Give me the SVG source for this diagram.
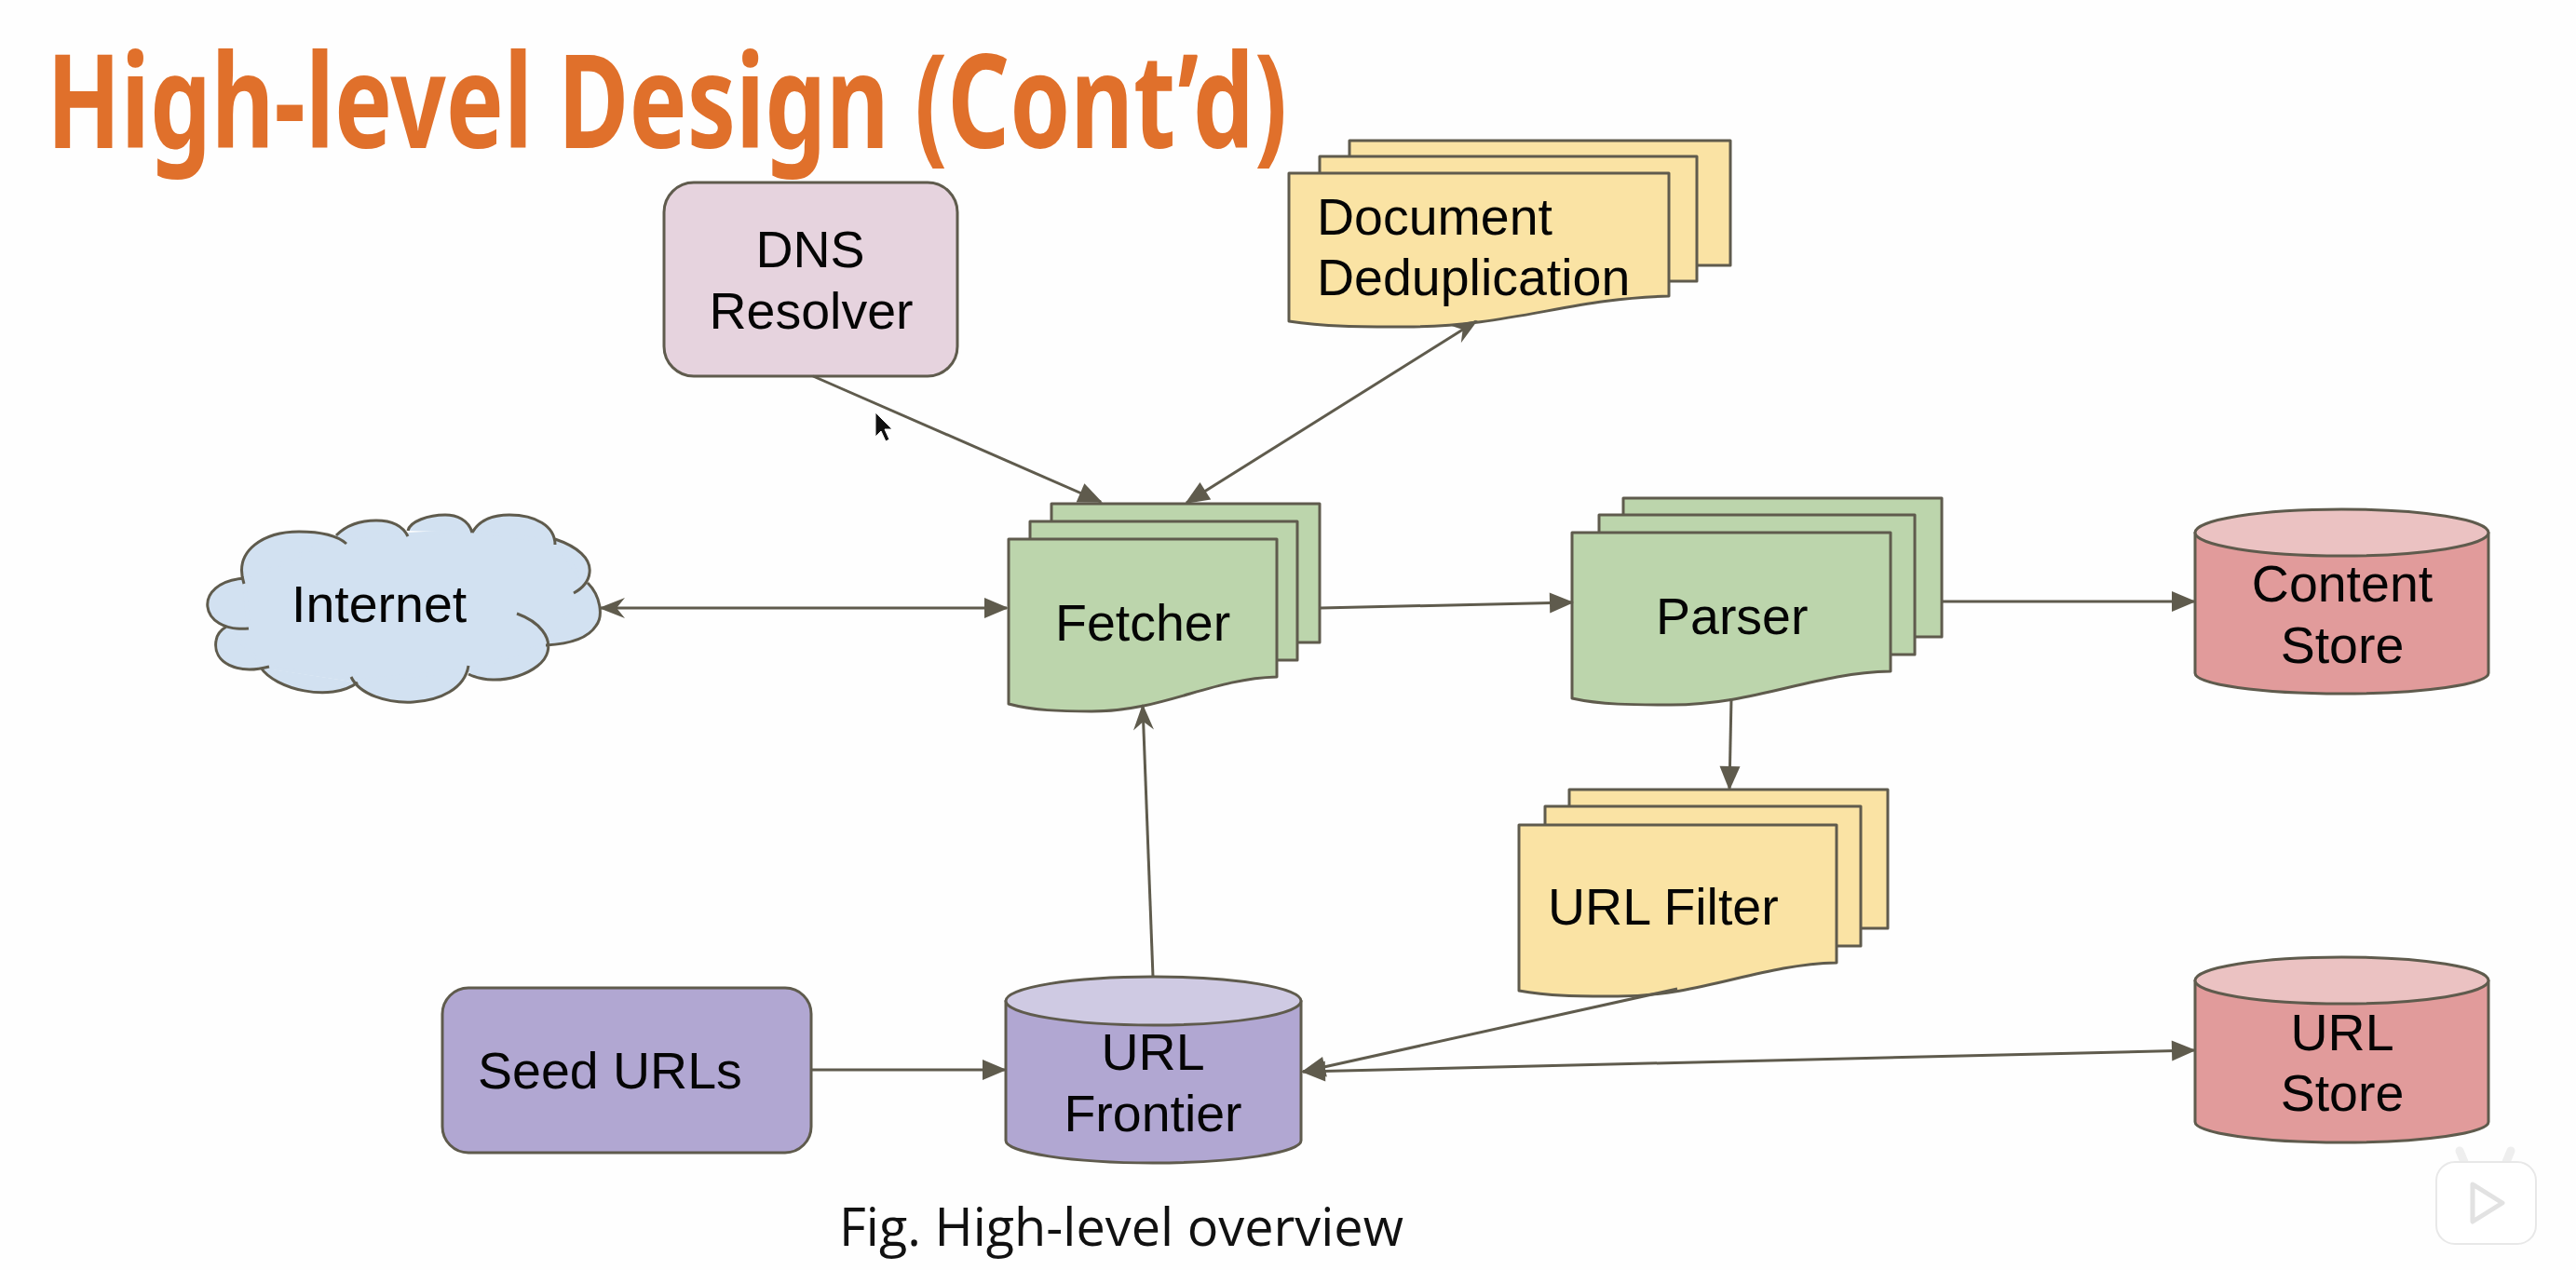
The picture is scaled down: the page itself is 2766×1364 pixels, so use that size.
<svg xmlns="http://www.w3.org/2000/svg" width="2766" height="1364" viewBox="0 0 2766 1364">
<style>
.s{stroke:#5f5b4d;stroke-width:3;stroke-linejoin:round}
.t{font-family:"Liberation Sans",Arial,sans-serif;font-size:55.500px;fill:#050505}
.m{text-anchor:middle}
.g{fill:#bcd5ac}.y{fill:#fae3a4}.p{fill:#b1a7d2}.r{fill:#e19b9b}.rt{fill:#ebc2c2}
.c{fill:none;stroke:#5f5b4d;stroke-width:3}
</style>
<defs>
<marker id="solid" markerUnits="userSpaceOnUse" markerWidth="28" markerHeight="26" viewBox="0 0 28 26" refX="25" refY="13" orient="auto-start-reverse"><path d="M1,2 L27,13 L1,24 Z" fill="#5f5b4d"/></marker>
<marker id="stealth" markerUnits="userSpaceOnUse" markerWidth="30" markerHeight="26" viewBox="0 0 30 26" refX="27" refY="13" orient="auto-start-reverse"><path d="M1,2 L29,13 L1,24 L10,13 Z" fill="#5f5b4d"/></marker>
</defs>
<rect width="2766" height="1364" fill="#fefefe"/>
<text id="title" x="50" y="159" font-family="'Noto Sans',sans-serif" font-weight="700" font-size="140" fill="#e0702b" textLength="1332" lengthAdjust="spacingAndGlyphs">High-level Design (Cont’d)</text>
<g id="dns"><rect class="s" x="713" y="196" width="315" height="208" rx="32" fill="#e6d3de"/><text class="t m" x="870" y="287">DNS</text><text class="t m" x="871" y="353">Resolver</text></g>
<g id="dedup">
<rect class="s y" x="1449" y="151" width="409" height="134"/>
<rect class="s y" x="1417" y="168" width="405" height="134"/>
<path class="s y" d="M1384,186 H1792 V318 C1690,320 1620,351 1510,351 C1462,351 1421,351 1384,345 Z"/>
<text class="t" x="1414" y="252">Document</text><text class="t" x="1414" y="317">Deduplication</text></g>
<g id="internet">
<path fill="#d2e1f1" d="M262,627 C250,590 285,571 321,571 C343,571 362,575 372,584 M361,575 C372,564 388,559 404,559 C420,559 432,564 438,576 M438,570 C440,560 460,553 478,553 C490,553 503,558 507,572 M507,572 C515,558 530,553 547,553 C575,553 596,565 596,585 M596,579 C620,587 635,600 633,615 C632,625 625,632 616,637 M631,626 C645,640 648,662 640,672 C630,688 605,692 586,693 M555,659 C580,668 592,685 588,700 C583,722 535,740 503,724 M503,715 C495,765 395,765 377,727 M384,733 C355,755 295,740 280,717 M289,716 C255,725 228,712 232,688 C233,680 238,676 243,673 M267,675 C212,680 206,625 262,621"/>
<path fill="#d2e1f1" stroke="#d2e1f1" stroke-width="4" stroke-linejoin="round" d="M262,625 L361,577 L438,574 L507,570 L596,582 L629,628 L588,691 L503,720 L384,731 L284,716 L245,675 L267,675 Z"/>
<path class="c" d="M262,627 C250,590 285,571 321,571 C343,571 362,575 372,584 M361,575 C372,564 388,559 404,559 C420,559 432,564 438,576 M438,570 C440,560 460,553 478,553 C490,553 503,558 507,572 M507,572 C515,558 530,553 547,553 C575,553 596,565 596,585 M596,579 C620,587 635,600 633,615 C632,625 625,632 616,637 M631,626 C645,640 648,662 640,672 C630,688 605,692 586,693 M555,659 C580,668 592,685 588,700 C583,722 535,740 503,724 M503,715 C495,765 395,765 377,727 M384,733 C355,755 295,740 280,717 M289,716 C255,725 228,712 232,688 C233,680 238,676 243,673 M267,675 C212,680 206,625 262,621"/>
<text class="t" x="313" y="668">Internet</text></g>
<g id="fetcher">
<rect class="s g" x="1129" y="541" width="288" height="149"/>
<rect class="s g" x="1106" y="560" width="287" height="149"/>
<path class="s g" d="M1083,579 H1371 V727 C1299,729 1250,764 1172,764 C1138,764 1109,763 1083,756 Z"/>
<text class="t" x="1133" y="688">Fetcher</text></g>
<g id="parser">
<rect class="s g" x="1743" y="535" width="342" height="149"/>
<rect class="s g" x="1717" y="553" width="339" height="150"/>
<path class="s g" d="M1688,572 H2030 V721 C1945,723 1886,757 1794,757 C1753,757 1719,757 1688,750 Z"/>
<text class="t" x="1778" y="681">Parser</text></g>
<g id="urlfilter">
<rect class="s y" x="1685" y="848" width="342" height="149"/>
<rect class="s y" x="1659" y="866" width="339" height="150"/>
<path class="s y" d="M1631,886 H1972 V1034 C1887,1036 1829,1070 1737,1070 C1696,1070 1662,1070 1631,1064 Z"/>
<text class="t" x="1662" y="993">URL Filter</text></g>
<g id="contentstore">
<path class="s r" d="M2357,572 V723 C2357,735 2427,745 2514,745 C2602,745 2672,735 2672,723 V572 Z"/>
<ellipse class="s rt" cx="2514.500" cy="572" rx="157.500" ry="25"/>
<text class="t m" x="2515" y="646">Content</text><text class="t m" x="2515" y="712">Store</text></g>
<g id="urlstore">
<path class="s r" d="M2357,1053 V1205 C2357,1217 2427,1227 2514,1227 C2602,1227 2672,1217 2672,1205 V1053 Z"/>
<ellipse class="s rt" cx="2514.500" cy="1053" rx="157.500" ry="25"/>
<text class="t m" x="2515" y="1128">URL</text><text class="t m" x="2515" y="1193">Store</text></g>
<g id="seedurls"><rect class="s p" x="475" y="1061" width="396" height="177" rx="28"/><text class="t" x="513" y="1169">Seed URLs</text></g>
<g id="urlfrontier">
<path class="s p" d="M1080,1075 V1225 C1080,1238 1151,1249 1238,1249 C1326,1249 1397,1238 1397,1225 V1075 Z"/>
<ellipse class="s" fill="#cfcae3" cx="1238.500" cy="1075" rx="158.500" ry="26"/>
<text class="t m" x="1238" y="1149">URL</text><text class="t m" x="1238" y="1215">Frontier</text></g>
<g id="connectors">
<line class="c" x1="645" y1="653" x2="1081" y2="653" marker-start="url(#stealth)" marker-end="url(#solid)"/>
<line class="c" x1="873" y1="404" x2="1182" y2="539" marker-end="url(#solid)"/>
<line class="c" x1="1585" y1="345" x2="1274" y2="540" marker-start="url(#stealth)" marker-end="url(#solid)"/>
<line class="c" x1="1418" y1="653" x2="1688" y2="647" marker-end="url(#solid)"/>
<line class="c" x1="1238" y1="1049" x2="1227" y2="758" marker-end="url(#stealth)"/>
<line class="c" x1="871" y1="1149" x2="1079" y2="1149" marker-end="url(#solid)"/>
<line class="c" x1="2085" y1="646" x2="2356" y2="646" marker-end="url(#solid)"/>
<line class="c" x1="1859" y1="750" x2="1857" y2="847" marker-end="url(#solid)"/>
<line class="c" x1="1801" y1="1062" x2="1399" y2="1151" marker-end="url(#solid)"/>
<line class="c" x1="1399" y1="1151" x2="2356" y2="1128" marker-start="url(#solid)" marker-end="url(#solid)"/>
</g>
<text id="caption" x="901" y="1338" font-family="'Open Sans',sans-serif" font-size="56" fill="#111" textLength="606" lengthAdjust="spacingAndGlyphs">Fig. High-level overview</text>
<path id="cursor" d="M940,443 V469 L946,463 L951,474 L955,472 L950,461 L958,461 Z" fill="#111" stroke="#fff" stroke-width="1"/>
<g id="watermark">
<path d="M2646,1248 L2641,1236 M2691,1248 L2696,1236" stroke="#eee" stroke-width="9" stroke-linecap="round"/>
<rect x="2616" y="1248" width="107" height="88" rx="20" fill="#fff" stroke="#e8e8e8" stroke-width="2"/>
<path d="M2655,1272 L2687,1292 L2655,1312 Z" fill="#fff" stroke="#e2e2e2" stroke-width="5" stroke-linejoin="round"/>
</g>
</svg>
